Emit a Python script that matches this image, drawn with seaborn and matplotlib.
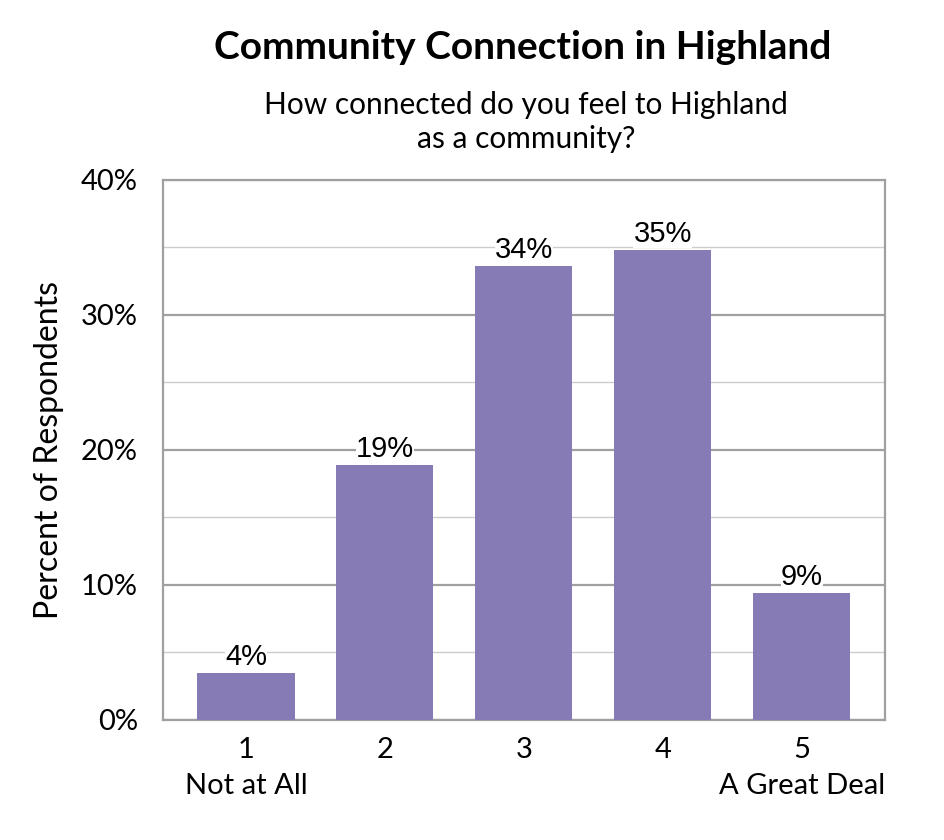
import matplotlib
matplotlib.use("Agg")
from matplotlib import pyplot as plt
from matplotlib.ticker import MultipleLocator, PercentFormatter
import pandas as pd
import seaborn as sns

# Data
categories = ["1\nNot at All", "2", "3", "4", "5\nA Great Deal"]
percents = [3.5, 18.9, 33.6, 34.8, 9.4]
labels = ["4%", "19%", "34%", "35%", "9%"]

df = pd.DataFrame({"answer": categories, "pct": percents})

sns.set_style("white")
plt.rcParams['font.family'] = ['Lato', 'DejaVu Sans']
plt.rcParams['text.color'] = 'black'
plt.rcParams['axes.labelcolor'] = 'black'
plt.rcParams['xtick.color'] = 'black'
plt.rcParams['ytick.color'] = 'black'

f, ax = plt.subplots(figsize=(9.45, 8.4), dpi=100)
f.subplots_adjust(left=0.1725, right=0.936, top=0.786, bottom=0.143)

ax = sns.barplot(data=df, x="answer", y="pct", color="#877BB5",
                 saturation=1, width=0.70, linewidth=0, edgecolor="none",
                 ax=ax, zorder=3)

ax.set_xlim(-0.597, 4.597)
ax.set_ylim(0, 40)
ax.yaxis.set_major_locator(MultipleLocator(10))
ax.yaxis.set_minor_locator(MultipleLocator(5))
ax.yaxis.set_major_formatter(PercentFormatter(decimals=0))
ax.grid(which="major", axis="y", color="#A0A0A0", linewidth=1.6, zorder=0)
ax.grid(which="minor", axis="y", color="#CCCCCC", linewidth=1.0, zorder=0)
ax.set_axisbelow(True)
for s in ax.spines.values():
    s.set_color("#A0A0A0")
    s.set_linewidth(1.6)

ax.tick_params(axis="y", which="both", length=0, labelsize=21, pad=18)
ax.tick_params(axis="x", which="both", length=0, labelsize=21, pad=12)
for t in ax.get_xticklabels():
    t.set_linespacing(1.5)
ax.set_xlabel("")
ax.set_ylabel("Percent of Respondents", fontsize=23, labelpad=12)

for p, lab in zip(ax.patches, labels):
    ax.annotate(lab, (p.get_x() + p.get_width() / 2, p.get_height()),
                ha="center", va="bottom", fontsize=21, family="Liberation Sans",
                xytext=(0, 1.5), textcoords="offset points",
                bbox=dict(boxstyle="square,pad=0.0", fc="white", ec="none"),
                zorder=4)

f.text(0.553, 0.943, "Community Connection in Highland", ha="center", va="center",
       fontsize=28, fontweight="bold")
f.text(0.557, 0.855, "How connected do you feel to Highland\nas a community?",
       ha="center", va="center", fontsize=21.5, linespacing=1.25)

plt.savefig("out.png", dpi=100)
